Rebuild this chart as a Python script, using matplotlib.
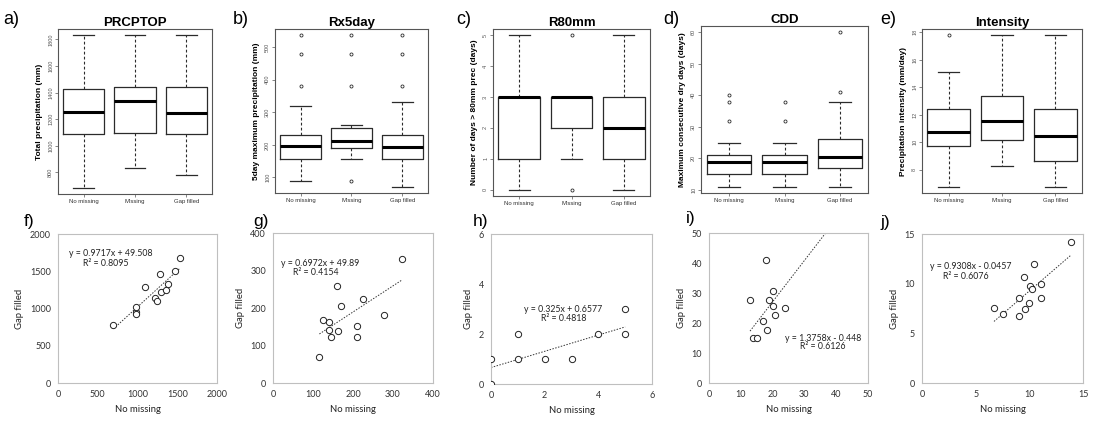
import matplotlib
matplotlib.use("Agg")
import matplotlib.pyplot as plt
import numpy as np

# ---------------- data ----------------
groups = ["No missing", "Missing", "Gap filled"]

# five-number summaries [whisker low, Q1, median, Q3, whisker high]
prcptop_stats = [[682, 1088, 1252, 1425, 1832], [832, 1095, 1337, 1440, 1832], [782, 1088, 1242, 1440, 1832]]
prcptop_fliers = [[], [], []]
rx5day_stats = [[89, 158, 197, 229, 318], [158, 189, 212, 253, 262], [71, 158, 193, 229, 331]]
rx5day_fliers = [[381, 480, 537], [89, 381, 480, 537], [381, 480, 537]]
r80_stats = [[0, 1, 3, 3, 5], [1, 2, 3, 3, 3], [0, 1, 2, 3, 5]]
r80_fliers = [[], [5, 0], []]
cdd_stats = [[11, 15, 19, 21, 25], [11, 15, 19, 21, 25], [11, 17, 20.4, 26, 38]]
cdd_fliers = [[32, 38, 40], [32, 38], [41, 60]]
int_stats = [[6.76, 9.71, 10.76, 12.4, 15.1], [8.29, 10.19, 11.55, 13.33, 17.79], [6.76, 8.62, 10.48, 12.4, 17.79]]
int_fliers = [[17.79], [], []]

top_titles = ["PRCPTOP", "Rx5day", "R80mm", "CDD", "Intensity"]
top_ylabels = ["Total precipitation (mm)", "5day maximum precipitation (mm)",
               "Number of days > 80mm prec (days)", "Maximum consecutive dry days (days)",
               "Precipitation intensity (mm/day)"]
top_letters = ["a)", "b)", "c)", "d)", "e)"]
top_yticks = [[800, 1000, 1200, 1400, 1600, 1800], [100, 200, 300, 400, 500],
              [0, 1, 2, 3, 4, 5], [10, 20, 30, 40, 50, 60], [8, 10, 12, 14, 16, 18]]

# scatter: No missing (x) vs Gap filled (y)
f_x = [698, 977, 981, 985, 1091, 1218, 1243, 1277, 1290, 1361, 1387, 1467, 1535]
f_y = [778, 947, 920, 1022, 1289, 1147, 1102, 1467, 1227, 1244, 1324, 1502, 1676]
g_x = [116, 124, 139, 140, 146, 163, 161, 171, 211, 211, 225, 278, 323]
g_y = [69, 169, 141, 164, 124, 140, 260, 205, 151, 124, 223, 181, 332]
h_x = [0, 0, 1, 1, 2, 3, 4, 5, 5]
h_y = [0, 1, 1, 2, 1, 1, 2, 2, 3]
i_x = [12.9, 13.9, 15.0, 17.1, 17.9, 18.1, 18.9, 20.0, 20.0, 20.9, 24.0, 40.0]
i_y = [27.8, 14.9, 14.9, 20.8, 40.9, 17.8, 27.8, 30.8, 25.8, 22.8, 24.9, 60.0]
j_x = [6.71, 7.54, 9.02, 9.02, 9.51, 9.57, 10.0, 10.09, 10.25, 10.46, 11.05, 11.08, 13.9]
j_y = [7.6, 6.9, 6.7, 8.6, 10.7, 7.4, 8.1, 9.8, 9.5, 12.0, 10.0, 8.6, 14.2]

slopes = [0.9717, 0.6972, 0.325, 1.3758, 0.9308]
intercepts = [49.508, 49.89, 0.6577, -0.448, -0.0457]
eq_texts = ["y = 0.9717x + 49.508", "y = 0.6972x + 49.89", "y = 0.325x + 0.6577",
            "y = 1.3758x - 0.448", "y = 0.9308x - 0.0457"]
r2_texts = ["R\u00b2 = 0.8095", "R\u00b2 = 0.4154", "R\u00b2 = 0.4818", "R\u00b2 = 0.6126", "R\u00b2 = 0.6076"]
bottom_letters = ["f)", "g)", "h)", "i)", "j)"]
bottom_max = [2000, 400, 6, 50, 15]
bottom_step = [500, 100, 2, 10, 5]

# ---------------- layout ----------------
W, H = 1098, 423
fig = plt.figure(figsize=(W / 100, H / 100), dpi=100)
fig.patch.set_facecolor("white")

def px_axes(x0, x1, y0, y1):
    return fig.add_axes([x0 / W, 1 - y1 / H, (x1 - x0) / W, (y1 - y0) / H])

top_boxes = [(58, 212, 29, 194), (275, 428, 29, 193), (493, 650, 29, 196),
             (701, 868, 26, 193), (922, 1082, 29, 193)]
top_letter_pos = [(3, 20), (233, 20), (456, 20), (663, 20), (880, 20)]
bot_boxes = [(58, 217, 234, 383), (273, 433, 233, 383), (491, 652, 234, 384),
             (709, 868, 233, 383), (922, 1083, 234, 383)]
bot_letter_pos = [(24, 221), (253, 221), (473, 221), (686, 218), (880, 222)]
eq_pos = [(0.33, 0.867), (0.295, 0.80), (0.445, 0.50), (0.72, 0.30), (0.30, 0.78)]
r2_pos = [(0.30, 0.80), (0.27, 0.74), (0.45, 0.438), (0.715, 0.242), (0.275, 0.716)]

all_stats = [prcptop_stats, rx5day_stats, r80_stats, cdd_stats, int_stats]
all_fliers = [prcptop_fliers, rx5day_fliers, r80_fliers, cdd_fliers, int_fliers]

sans = ["Liberation Sans", "DejaVu Sans"]
calib = ["Lato", "DejaVu Sans"]
dark = "#2b2b2b"

for k in range(5):
    ax = px_axes(*top_boxes[k])
    stats = []
    for s, fl, lab in zip(all_stats[k], all_fliers[k], groups):
        stats.append(dict(whislo=s[0], q1=s[1], med=s[2], q3=s[3], whishi=s[4],
                          fliers=fl, label=lab))
    ax.bxp(stats, positions=[1, 2, 3], widths=0.8, capwidths=0.4, showfliers=True,
           boxprops=dict(color=dark, lw=0.9),
           whiskerprops=dict(color=dark, lw=0.8, linestyle=(0, (2.5, 2))),
           capprops=dict(color=dark, lw=0.9),
           medianprops=dict(color="black", lw=2.2),
           flierprops=dict(marker="o", mfc="none", mec=dark, ms=2.2, mew=0.6))
    lo = min(min(s[0] for s in all_stats[k]), min([min(f) for f in all_fliers[k] if f] or [np.inf]))
    hi = max(max(s[4] for s in all_stats[k]), max([max(f) for f in all_fliers[k] if f] or [-np.inf]))
    pad = 0.04 * (hi - lo)
    ax.set_ylim(lo - pad, hi + pad)
    ax.set_xlim(0.5, 3.5)
    ax.set_yticks(top_yticks[k])
    ax.set_yticklabels([str(t) for t in top_yticks[k]], rotation=90, va="center",
                       fontsize=4, color="#555555", family=sans)
    ax.set_xticks([1, 2, 3])
    ax.set_xticklabels(groups, fontsize=4.3, color="#333333", family=sans)
    ax.tick_params(axis="both", length=2, width=0.5, color="#555555", pad=1.5)
    for sp in ax.spines.values():
        sp.set_color("#555555")
        sp.set_linewidth(0.8)
    ax.set_title(top_titles[k], fontsize=9.5, fontweight="bold", family=sans, pad=2.5)
    ax.set_ylabel(top_ylabels[k], fontsize=6, fontweight="bold", family=sans, labelpad=4)
    fig.text(top_letter_pos[k][0] / W, 1 - top_letter_pos[k][1] / H, top_letters[k],
             fontsize=13, family=sans, va="center", ha="left")

scat_x = [f_x, g_x, h_x, i_x, j_x]
scat_y = [f_y, g_y, h_y, i_y, j_y]
for k in range(5):
    ax = px_axes(*bot_boxes[k])
    x = np.array(scat_x[k], dtype=float)
    y = np.array(scat_y[k], dtype=float)
    ax.plot(x, y, linestyle="none", marker="o", mfc="white", mec="#222222", ms=4.5, mew=0.7, zorder=3)
    xl = np.array([x.min(), x.max()])
    ax.plot(xl, slopes[k] * xl + intercepts[k], color="#333333", lw=0.7,
            linestyle=(0, (1.5, 1.5)), zorder=2)
    m = bottom_max[k]
    ax.set_xlim(0, m)
    ax.set_ylim(0, m)
    ticks = np.arange(0, m + bottom_step[k] / 2, bottom_step[k])
    ax.set_xticks(ticks)
    ax.set_yticks(ticks)
    ax.set_xticklabels([f"{t:g}" for t in ticks], fontsize=6.5, family=calib, color="#333333")
    ax.set_yticklabels([f"{t:g}" for t in ticks], fontsize=6.5, family=calib, color="#333333")
    ax.tick_params(axis="both", length=0, pad=5)
    for sp in ax.spines.values():
        sp.set_color("#bfbfbf")
        sp.set_linewidth(0.8)
    ax.set_xlabel("No missing", fontsize=6.8, family=calib, color="#222222", labelpad=4)
    ax.set_ylabel("Gap filled", fontsize=6.8, family=calib, color="#222222", labelpad=4)
    ax.text(eq_pos[k][0], eq_pos[k][1], eq_texts[k], transform=ax.transAxes,
            fontsize=6.3, family=calib, ha="center", va="center", color="#222222")
    ax.text(r2_pos[k][0], r2_pos[k][1], r2_texts[k], transform=ax.transAxes,
            fontsize=6.3, family=calib, ha="center", va="center", color="#222222")
    fig.text(bot_letter_pos[k][0] / W, 1 - bot_letter_pos[k][1] / H, bottom_letters[k],
             fontsize=12.5, family=sans, va="center", ha="left")

fig.savefig("out.png", dpi=100, facecolor="white")
